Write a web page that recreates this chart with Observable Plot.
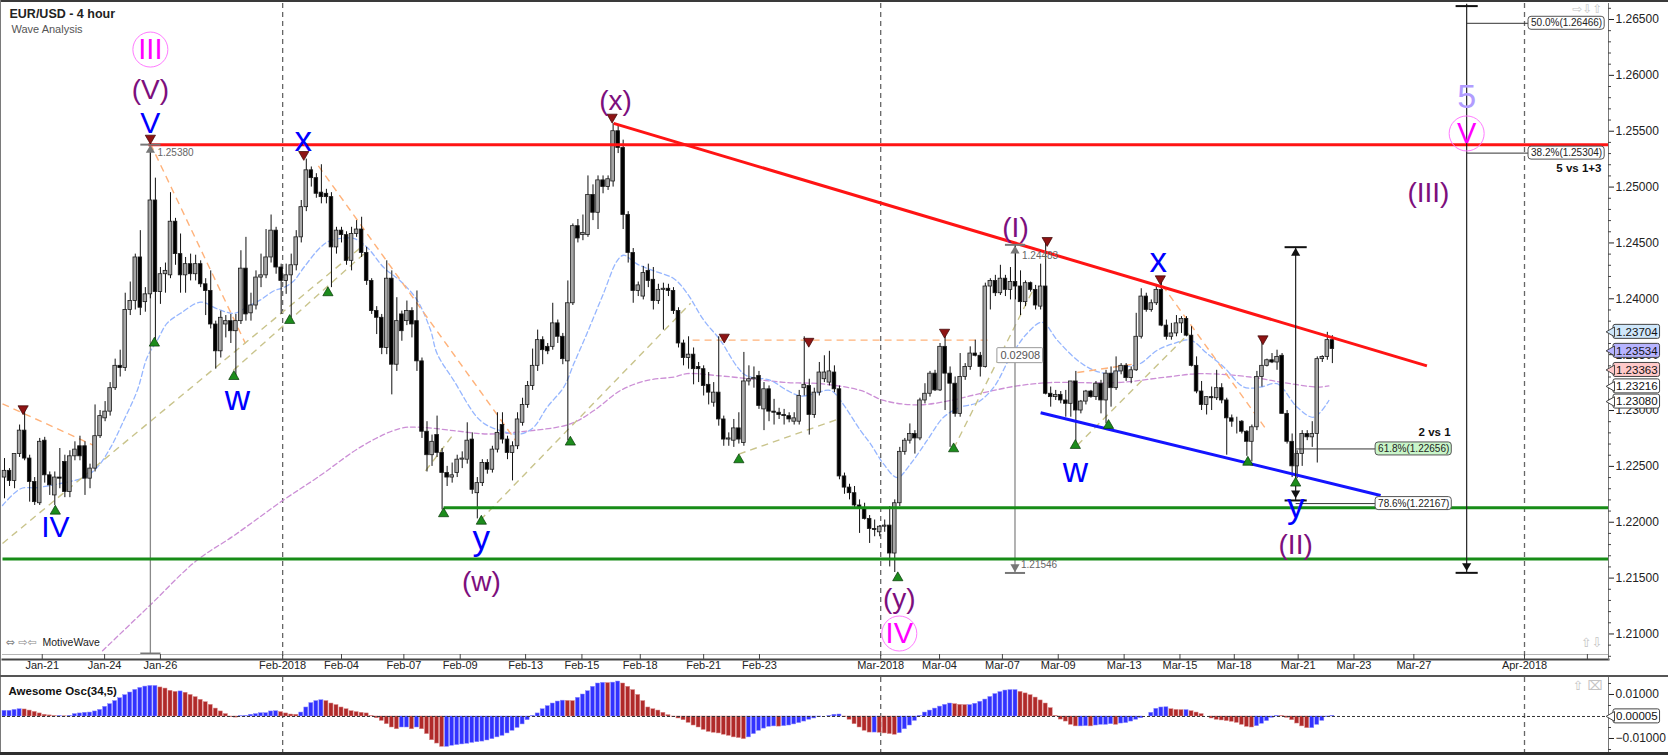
<!DOCTYPE html>
<html><head><meta charset="utf-8">
<script src="https://cdn.jsdelivr.net/npm/d3@7"></script>
<script src="https://cdn.jsdelivr.net/npm/@observablehq/plot@0.6"></script>
<style>
html,body{margin:0;padding:0;background:#fff;}
#wrap{position:relative;width:1668px;height:755px;overflow:hidden;background:#fff;font-family:'Liberation Sans',Arial,sans-serif;}
#wrap svg{display:block;}
.bd{position:absolute;}
</style></head><body><div id="wrap"></div>
<script>
// ---------- candle data (EUR/USD 4h), one entry per bar ----------
const openP = [1.2240,1.2246,1.2237,1.2261,1.2282,1.2257,1.2236,1.2217,1.2273,1.2242,1.2224,1.2240,1.2254,1.2227,1.2259,1.2268,1.2268,1.2239,1.2248,1.2277,1.2293,1.2299,1.2320,1.2340,1.2338,1.2390,1.2398,1.2437,1.2397,1.2404,
1.2488,1.2406,1.2422,1.2421,1.2469,1.2440,1.2421,1.2431,1.2422,1.2431,1.2413,1.2407,1.2377,1.2353,1.2377,1.2380,1.2371,1.2380,1.2427,1.2387,
1.2394,1.2419,1.2421,1.2437,1.2461,1.2428,1.2416,1.2421,1.2430,1.2455,1.2482,1.2515,1.2508,1.2495,1.2494,1.2491,1.2446,1.2461,1.2457,1.2434,
1.2458,1.2462,1.2441,1.2416,1.2389,1.2383,1.2356,1.2418,1.2341,1.2386,1.2380,1.2389,1.2380,1.2344,1.2281,1.2260,
1.2278,1.2262,1.2244,1.2240,1.2244,1.2256,1.2256,1.2274,1.2226,1.2235,1.2253,1.2247,1.2265,1.2287,1.2274,1.2262,1.2268,1.2289,1.2305,1.2322,
1.2340,1.2363,1.2357,1.2357,1.2378,1.2366,1.2344,1.2396,1.2465,1.2457,1.2457,1.2493,1.2477,1.2506,1.2500,1.2505,1.2550,1.2535,1.2475,1.2441,
1.2407,1.2402,1.2425,1.2417,1.2398,1.2408,1.2409,1.2407,1.2389,1.2360,1.2347,1.2350,1.2339,1.2337,1.2323,1.2307,1.2316,1.2292,1.2274,1.2273,
1.2284,1.2271,1.2326,1.2328,1.2331,1.2301,1.2319,1.2299,1.2298,1.2296,1.2295,1.2290,1.2290,1.2320,1.2322,1.2296,1.2316,1.2328,1.2325,1.2334,
1.2319,1.2241,1.2231,
1.2226,1.2215,1.2212,1.2203,1.2194,1.2191,1.2196,1.2197,1.2172,1.2217,1.2263,1.2273,1.2279,1.2275,1.2309,1.2315,1.2333,1.2318,1.2357,1.2333,
1.2324,1.2297,1.2330,1.2339,1.2351,1.2349,1.2339,1.2411,1.2416,1.2405,1.2418,1.2408,1.2415,1.2411,1.2397,1.2414,1.2408,1.2393,1.2411,1.2315,
1.2312,1.2314,1.2309,1.2306,1.2326,1.2300,1.2308,1.2317,1.2312,1.2324,1.2309,1.2333,1.2320,1.2335,1.2340,1.2329,1.2336,1.2366,1.2402,1.2390,
1.2396,1.2408,1.2376,1.2366,1.2369,1.2378,1.2382,1.2367,1.2340,1.2317,1.2305,1.2312,1.2311,1.2320,1.2309,1.2293,1.2290,1.2290,1.2281,1.2272,
1.2285,1.2330,1.2340,1.2345,1.2343,1.2349,1.2297,1.2272,1.2250,1.2261,1.2279,1.2276,1.2279,1.2346,1.2348,1.2363];
const highP = [1.2257,1.2248,1.2261,1.2287,1.2302,1.2260,1.2240,1.2275,1.2276,1.2245,1.2245,1.2266,1.2260,1.2264,1.2272,1.2277,1.2272,1.2252,1.2305,1.2300,1.2308,1.2325,1.2346,1.2354,1.2405,1.2415,1.2440,1.2461,1.2410,1.2538,
1.2508,1.2428,1.2432,1.2495,1.2472,1.2458,1.2437,1.2440,1.2439,1.2434,1.2418,1.2425,1.2380,1.2389,1.2385,1.2386,1.2386,1.2443,1.2455,1.2405,
1.2425,1.2440,1.2462,1.2475,1.2464,1.2431,1.2431,1.2440,1.2461,1.2488,1.2525,1.2518,1.2512,1.2520,1.2498,1.2495,1.2464,1.2464,1.2460,1.2464,
1.2470,1.2473,1.2446,1.2418,1.2393,1.2386,1.2434,1.2425,1.2401,1.2389,1.2398,1.2392,1.2407,1.2347,1.2290,1.2278,
1.2295,1.2266,1.2250,1.2253,1.2260,1.2263,1.2289,1.2280,1.2240,1.2256,1.2256,1.2268,1.2298,1.2298,1.2277,1.2272,1.2298,1.2311,1.2326,1.2355,
1.2372,1.2366,1.2360,1.2396,1.2381,1.2369,1.2416,1.2467,1.2471,1.2475,1.2510,1.2502,1.2510,1.2510,1.2510,1.2557,1.2556,1.2542,1.2478,1.2445,
1.2415,1.2429,1.2431,1.2428,1.2413,1.2414,1.2413,1.2410,1.2392,1.2363,1.2366,1.2356,1.2343,1.2340,1.2334,1.2325,1.2366,1.2295,1.2280,1.2292,
1.2298,1.2352,1.2340,1.2339,1.2335,1.2325,1.2322,1.2310,1.2302,1.2301,1.2298,1.2298,1.2318,1.2366,1.2328,1.2320,1.2343,1.2349,1.2353,1.2340,
1.2322,1.2244,1.2234,
1.2232,1.2220,1.2217,1.2206,1.2202,1.2197,1.2202,1.2214,1.2220,1.2267,1.2275,1.2288,1.2282,1.2311,1.2324,1.2335,1.2336,1.2360,1.2369,1.2339,
1.2330,1.2351,1.2342,1.2357,1.2363,1.2352,1.2414,1.2418,1.2421,1.2430,1.2421,1.2428,1.2448,1.2425,1.2416,1.2415,1.2412,1.2431,1.2451,1.2321,
1.2318,1.2317,1.2318,1.2326,1.2335,1.2309,1.2318,1.2318,1.2326,1.2327,1.2336,1.2339,1.2348,1.2342,1.2342,1.2339,1.2387,1.2409,1.2405,1.2399,
1.2412,1.2418,1.2381,1.2378,1.2385,1.2384,1.2384,1.2375,1.2348,1.2326,1.2312,1.2321,1.2336,1.2324,1.2311,1.2296,1.2294,1.2291,1.2282,1.2287,
1.2335,1.2366,1.2346,1.2351,1.2354,1.2351,1.2300,1.2279,1.2264,1.2282,1.2282,1.2290,1.2348,1.2349,1.2370,1.2367];
const lowP = [1.2221,1.2232,1.2230,1.2258,1.2255,1.2218,1.2215,1.2215,1.2235,1.2224,1.2215,1.2230,1.2222,1.2222,1.2255,1.2255,1.2224,1.2230,1.2245,1.2275,1.2290,1.2295,1.2318,1.2330,1.2335,1.2385,1.2390,1.2385,1.2388,1.2400,
1.2359,1.2395,1.2405,1.2418,1.2430,1.2405,1.2405,1.2416,1.2416,1.2410,1.2385,1.2373,1.2337,1.2347,1.2365,1.2360,1.2329,1.2377,1.2380,1.2380,
1.2390,1.2410,1.2418,1.2432,1.2422,1.2386,1.2404,1.2383,1.2425,1.2450,1.2478,1.2500,1.2490,1.2485,1.2485,1.2410,1.2440,1.2450,1.2430,1.2425,
1.2455,1.2437,1.2412,1.2386,1.2368,1.2350,1.2350,1.2314,1.2335,1.2362,1.2376,1.2365,1.2335,1.2275,1.2245,1.2250,
1.2258,1.2211,1.2232,1.2235,1.2240,1.2248,1.2252,1.2225,1.2203,1.2232,1.2243,1.2244,1.2262,1.2270,1.2256,1.2237,1.2265,1.2286,1.2302,1.2318,
1.2335,1.2341,1.2350,1.2354,1.2360,1.2341,1.2273,1.2394,1.2450,1.2452,1.2455,1.2470,1.2462,1.2494,1.2497,1.2500,1.2530,1.2462,1.2432,1.2396,
1.2402,1.2399,1.2410,1.2390,1.2395,1.2372,1.2402,1.2386,1.2356,1.2340,1.2337,1.2323,1.2325,1.2313,1.2305,1.2303,1.2286,1.2268,1.2268,1.2267,
1.2270,1.2268,1.2322,1.2320,1.2301,1.2282,1.2290,1.2287,1.2292,1.2287,1.2289,1.2287,1.2287,1.2313,1.2278,1.2293,1.2313,1.2325,1.2322,1.2316,
1.2238,1.2225,1.2220,
1.2212,1.2190,1.2202,1.2181,1.2187,1.2187,1.2191,1.2160,1.2155,1.2214,1.2260,1.2270,1.2261,1.2273,1.2306,1.2312,1.2317,1.2317,1.2300,1.2267,
1.2294,1.2294,1.2327,1.2336,1.2348,1.2330,1.2338,1.2390,1.2402,1.2403,1.2402,1.2399,1.2399,1.2385,1.2393,1.2406,1.2390,1.2390,1.2314,1.2303,
1.2309,1.2306,1.2294,1.2294,1.2267,1.2297,1.2305,1.2311,1.2309,1.2297,1.2288,1.2303,1.2318,1.2332,1.2326,1.2324,1.2335,1.2364,1.2388,1.2388,
1.2394,1.2375,1.2363,1.2363,1.2366,1.2369,1.2366,1.2339,1.2315,1.2300,1.2296,1.2300,1.2309,1.2306,1.2260,1.2285,1.2279,1.2279,1.2259,1.2254,
1.2282,1.2321,1.2339,1.2342,1.2336,1.2297,1.2270,1.2240,1.2239,1.2250,1.2273,1.2267,1.2253,1.2343,1.2345,1.2342];
const closeP = [1.2246,1.2237,1.2261,1.2282,1.2257,1.2236,1.2218,1.2272,1.2242,1.2233,1.2240,1.2239,1.2227,1.2259,1.2265,1.2259,1.2239,1.2248,1.2277,1.2295,1.2299,1.2320,1.2340,1.2338,1.2390,1.2398,1.2437,1.2392,1.2404,1.2488,
1.2406,1.2422,1.2425,1.2469,1.2440,1.2421,1.2431,1.2422,1.2431,1.2413,1.2407,1.2377,1.2353,1.2383,1.2380,1.2371,1.2380,1.2427,1.2386,1.2394,
1.2419,1.2421,1.2437,1.2461,1.2428,1.2416,1.2421,1.2430,1.2455,1.2482,1.2515,1.2508,1.2494,1.2491,1.2491,1.2446,1.2461,1.2457,1.2434,1.2458,
1.2462,1.2441,1.2416,1.2389,1.2383,1.2356,1.2418,1.2341,1.2380,1.2371,1.2389,1.2377,1.2344,1.2281,1.2260,1.2272,
1.2262,1.2244,1.2240,1.2242,1.2256,1.2257,1.2273,1.2229,1.2235,1.2253,1.2247,1.2265,1.2280,1.2274,1.2262,1.2268,1.2292,1.2305,1.2322,1.2340,
1.2363,1.2354,1.2353,1.2378,1.2366,1.2346,1.2396,1.2465,1.2454,1.2459,1.2493,1.2477,1.2506,1.2500,1.2507,1.2550,1.2535,1.2475,1.2441,1.2407,
1.2412,1.2423,1.2416,1.2398,1.2408,1.2409,1.2407,1.2389,1.2360,1.2347,1.2350,1.2337,1.2337,1.2322,1.2316,1.2316,1.2292,1.2274,1.2275,1.2284,
1.2274,1.2326,1.2328,1.2329,1.2304,1.2319,1.2299,1.2298,1.2296,1.2295,1.2292,1.2293,1.2313,1.2323,1.2296,1.2316,1.2334,1.2334,1.2335,1.2319,
1.2241,1.2231,1.2226,
1.2215,1.2212,1.2203,1.2194,1.2193,1.2196,1.2197,1.2172,1.2217,1.2263,1.2273,1.2279,1.2275,1.2309,1.2315,1.2333,1.2318,1.2357,1.2333,1.2324,
1.2297,1.2330,1.2339,1.2351,1.2349,1.2339,1.2411,1.2416,1.2405,1.2418,1.2408,1.2415,1.2411,1.2397,1.2414,1.2408,1.2394,1.2411,1.2315,1.2312,
1.2314,1.2309,1.2306,1.2326,1.2300,1.2308,1.2317,1.2312,1.2324,1.2309,1.2333,1.2320,1.2335,1.2340,1.2329,1.2336,1.2366,1.2402,1.2390,1.2396,
1.2408,1.2376,1.2366,1.2369,1.2378,1.2382,1.2367,1.2340,1.2317,1.2305,1.2312,1.2311,1.2320,1.2309,1.2293,1.2290,1.2290,1.2281,1.2272,1.2285,
1.2330,1.2340,1.2345,1.2343,1.2348,1.2297,1.2272,1.2250,1.2261,1.2279,1.2276,1.2279,1.2346,1.2348,1.2363,1.2355];

// Awesome Oscillator (34,5), one value per bar
const aoValues = [0.0026,0.0026,0.0030,0.0033,0.0032,0.0027,0.0021,0.0014,0.0008,0.0005,0.0002,
0.0002,0.0001,0.0003,0.0011,0.0014,0.0017,0.0018,0.0023,0.0030,0.0044,
0.0056,0.0070,0.0083,0.0097,0.0109,0.0121,0.0130,0.0136,0.0139,0.0139,
0.0132,0.0127,0.0117,0.0112,0.0114,0.0108,0.0098,0.0088,0.0076,0.0065,
0.0053,0.0036,0.0023,0.0011,-0.0003,-0.0005,0.0002,0.0003,0.0008,0.0011,
0.0015,0.0015,0.0023,0.0024,0.0020,0.0014,0.0009,0.0008,0.0018,0.0041,
0.0061,0.0070,0.0074,0.0070,0.0059,0.0052,0.0041,0.0033,0.0024,0.0020,
0.0017,0.0014,0.0002,-0.0008,-0.0020,-0.0035,-0.0050,-0.0058,-0.0050,-0.0050,
-0.0058,-0.0050,-0.0058,-0.0080,-0.0108,-0.0123,-0.0138,-0.0138,-0.0133,-0.0130,
-0.0127,-0.0124,-0.0120,-0.0117,-0.0114,-0.0109,-0.0103,-0.0095,-0.0088,-0.0077,
-0.0065,-0.0052,-0.0036,-0.0017,0.0003,0.0014,0.0033,0.0047,0.0059,0.0068,
0.0072,0.0071,0.0070,0.0085,0.0100,0.0115,0.0135,0.0150,0.0153,0.0152,
0.0154,0.0159,0.0150,0.0135,0.0120,0.0098,0.0070,0.0041,0.0033,0.0027,
0.0017,0.0006,-0.0002,-0.0009,-0.0017,-0.0029,-0.0041,-0.0050,-0.0061,-0.0070,
-0.0074,-0.0077,-0.0083,-0.0088,-0.0095,-0.0098,-0.0103,-0.0095,-0.0080,-0.0065,
-0.0055,-0.0047,-0.0045,-0.0046,-0.0044,-0.0041,-0.0036,-0.0030,-0.0023,-0.0015,
-0.0009,-0.0003,0.0000,0.0002,0.0008,0.0009,-0.0003,-0.0015,-0.0035,-0.0050,
-0.0065,-0.0073,-0.0073,-0.0074,-0.0077,-0.0080,-0.0083,-0.0076,-0.0058,-0.0041,
-0.0020,0.0003,0.0018,0.0027,0.0036,0.0045,0.0053,0.0059,0.0056,0.0053,
0.0052,0.0052,0.0058,0.0067,0.0077,0.0089,0.0102,0.0111,0.0118,0.0120,
0.0120,0.0112,0.0105,0.0097,0.0086,0.0073,0.0059,0.0038,0.0003,-0.0014,
-0.0023,-0.0038,-0.0045,-0.0045,-0.0044,-0.0045,-0.0041,-0.0038,-0.0038,-0.0035,
-0.0038,-0.0032,-0.0030,-0.0023,-0.0015,-0.0008,0.0000,0.0017,0.0035,0.0041,
0.0042,0.0033,0.0030,0.0029,0.0029,0.0024,0.0018,0.0011,0.0000,-0.0009,
-0.0015,-0.0018,-0.0021,-0.0024,-0.0029,-0.0038,-0.0047,-0.0050,-0.0044,-0.0033,
-0.0021,-0.0006,0.0003,0.0002,-0.0006,-0.0017,-0.0032,-0.0045,-0.0053,-0.0053,
-0.0038,-0.0020,-0.0003,0.0003];

// time axis (bar positions of the date ticks)
const xTickBars = [7.5,19.9,31.0,55.3,67.0,79.4,90.6,103.6,114.8,126.4,139.0,150.1,174.2,185.9,198.4,209.5,222.6,233.7,244.5,257.2,268.3,280.2,302.2,314.7];
const xTickLabels = ["Jan-21","Jan-24","Jan-26","Feb-2018","Feb-04","Feb-07","Feb-09","Feb-13","Feb-15","Feb-18","Feb-21","Feb-23","Mar-2018","Mar-04","Mar-07","Mar-09","Mar-13","Mar-15","Mar-18","Mar-21","Mar-23","Mar-27","Apr-2018",""];
const monthLineBars = [55.3,174.2,302.2];
const yTickValues = [1.210,1.215,1.220,1.225,1.230,1.235,1.240,1.245,1.250,1.255,1.260,1.265];
const oscTickValues = [-0.01,0.01];
const oscMinorTicks = [-0.015,-0.005,0.005,0.015];

// moving averages (bar, price)
const blueMA = [[-0.4,1.2215],[3.2,1.2230],[6.5,1.2231],[12.5,1.2236],[15.8,1.2240],[18.4,1.2249],[21.1,1.2267],[23.7,1.2291],[26.4,1.2318],[28.4,1.2348],[30.4,1.2363],[32.3,1.2378],[35.0,1.2387],[39.0,1.2397],[42.3,1.2391],[45.6,1.2387],[48.3,1.2393],[50.9,1.2399],[53.5,1.2407],[55.5,1.2410],[57.5,1.2416],[59.5,1.2428],[62.8,1.2446],[64.8,1.2452],[69.4,1.2454],[72.1,1.2446],[75.4,1.2428],[78.7,1.2416],[82.0,1.2399],[84.7,1.2372],
[86.0,1.2351],[89.3,1.2327],[94.6,1.2291],[98.6,1.2282],[102.6,1.2279],[105.2,1.2285],[107.9,1.2303],[111.2,1.2321],[113.2,1.2342],[115.8,1.2369],[119.1,1.2405],[121.8,1.2434],[123.1,1.2439],[125.8,1.2431],[129.1,1.2425],[133.1,1.2418],[135.7,1.2405],[139.0,1.2381],[142.3,1.2363],[145.7,1.2339],[147.6,1.2331],[152.3,1.2327],[155.6,1.2318],[158.3,1.2313],[160.9,1.2315],[164.2,1.2318],[166.2,1.2309],[170.2,1.2282],
[172.2,1.2270],[174.8,1.2252],[177.5,1.2240],[180.1,1.2252],[183.4,1.2273],[186.7,1.2294],[190.1,1.2303],[193.4,1.2307],[196.7,1.2321],[200.0,1.2348],[203.3,1.2369],[206.3,1.2379],[209.3,1.2363],[213.3,1.2345],[216.6,1.2336],[219.9,1.2333],[223.2,1.2339],[225.8,1.2342],[229.2,1.2354],[232.5,1.2360],[235.8,1.2363],[239.1,1.2351],[242.4,1.2339],[246.4,1.2321],[249.7,1.2321],[253.0,1.2324],[257.0,1.2303],[260.3,1.2294],[263.3,1.2309]];
const purpleMA = [[19.5,1.2085],[29.0,1.2126],[38.0,1.2165],[45.6,1.2188],[55.5,1.2220],[62.2,1.2240],[71.4,1.2269],[78.7,1.2284],[82.7,1.2285],[89.3,1.2282],[96.0,1.2279],[102.6,1.2281],[112.5,1.2288],[117.2,1.2300],[122.5,1.2318],[127.8,1.2327],[133.1,1.2330],[135.7,1.2333],[142.3,1.2331],[149.0,1.2328],[155.6,1.2325],[162.2,1.2324],[170.2,1.2318],[174.8,1.2309],[181.5,1.2305],[188.1,1.2309],[194.7,1.2316],[201.3,1.2322],[207.9,1.2325],[221.2,1.2325],[231.1,1.2330],[237.8,1.2333],[247.7,1.2330],[254.3,1.2325],[261.0,1.2321],[263.3,1.2322]];

// zig-zag helper lines (bar1, price1, bar2, price2)
const orangeSegs = [[-0.4,1.2306,19.1,1.2266],[29.0,1.2539,47.9,1.2360],[62.4,1.2519,102.6,1.2267],[136.8,1.2363,195.6,1.2363],[230.2,1.2412,250.7,1.2284],[213.3,1.2334,225.2,1.2342]];
const khakiSegs = [[-0.4,1.2181,71.4,1.2448],[45.5,1.2336,71.4,1.2440],[94.6,1.2202,136.4,1.2396],[146.0,1.2261,166.2,1.2293],[188.7,1.2266,204.6,1.2409],[213.3,1.2269,235.5,1.2369],[83.7,1.2246,89.3,1.2279]];

// levels and trend lines
const redLevel = [{p:1.2538, from:28.6}];
const greenLevels = [{p:1.2213, from:87.3},{p:1.2167, from:-0.4}];
const redTrend = [[121.1,1.2557,282.8,1.2340]];
const blueTrend = [[206.0,1.2298,273.6,1.2224]];

// measurement lines (bar, top price, bottom price)
const grayMeasures = [[29.0,1.2538,1.20825],[200.9,1.24483,1.21546]];
const blackMeasures = [[290.7,1.2664,1.21547],[256.7,1.24462,1.22195]];
const grayCaps = [[29.0,1.2538],[29.0,1.20825],[200.9,1.24483],[200.9,1.21546]];
const blackCaps = [[290.7,1.2662],[290.7,1.21547],[256.7,1.24462],[256.7,1.22195]];
const grayArrowsUp = [[29.0,1.2533],[200.9,1.2443]];
const grayArrowsDown = [[200.9,1.2160]];
const blackArrowsUp = [[256.7,1.2441]];
const blackArrowsDown = [[290.7,1.2161],[256.7,1.2226]];

// pivot markers
const pivotHighs = [[3.7,1.23016],[29.0,1.25438],[59.5,1.25292],[120.8,1.25626],[143.1,1.23657],[159.9,1.23620],[186.9,1.23701],[207.3,1.24522],[229.8,1.24179],[250.2,1.23642]];
const pivotLows = [[10.1,1.22099],[29.8,1.23603],[45.6,1.23304],[56.7,1.23806],[64.3,1.24054],[87.3,1.22076],[94.8,1.22009],[112.5,1.22717],[146.0,1.22559],[177.6,1.21503],[188.7,1.22657],[212.9,1.22687],[219.5,1.22866],[247.2,1.22537],[256.7,1.22350]];

// wave labels
const magentaWaves = [{t:"III",i:29.0,p:1.26231},{t:"IV",i:177.9,p:1.21004},{t:"V",i:290.7,p:1.2548}];
const purpleWaves = [{t:"(V)",i:29.0,p:1.25873},{t:"(w)",i:94.8,p:1.21461},{t:"(x)",i:121.5,p:1.25766},{t:"(y)",i:177.9,p:1.21317},{t:"(I)",i:201.0,p:1.24629},{t:"(II)",i:256.7,p:1.21792},{t:"(III)",i:283.1,p:1.24951}];
const blueWavesUpper = [{t:"V",i:29.0,p:1.25574},{t:"IV",i:10.1,p:1.21953}];
const blueWavesLower = [{t:"x",i:59.4,p:1.25426},{t:"w",i:46.3,p:1.23108},{t:"y",i:94.8,p:1.21854},{t:"x",i:229.4,p:1.24343},{t:"w",i:212.9,p:1.22463},{t:"y",i:256.7,p:1.22141}];
const cycleLabels = [{t:"5",i:290.7,p:1.25802}];

// fib / measurement texts
const fibLinks = [[290.7,303.0,1.26466],[290.7,303.0,1.25304],[256.7,272.6,1.22656],[256.7,272.6,1.22167]];
const fibBoxesWhite = [{t:"50.0%(1.26466)",i:303.0,p:1.26466},{t:"38.2%(1.25304)",i:303.0,p:1.25304},{t:"78.6%(1.22167)",i:272.6,p:1.22167}];
const fibBoxesGreen = [{t:"61.8%(1.22656)",i:272.6,p:1.22656}];
const rangeBox = [{t:"0.02908",i:197.4,p:1.23491}];
const fibNotes = [{t:"5 vs 1+3",i:317.5,p:1.25166},{t:"2 vs 1",i:287.5,p:1.22806}];
const priceNotes = [{t:"1.25380",i:30.4,p:1.25307},{t:"1.24483",i:202.3,p:1.24383},{t:"1.21546",i:202.1,p:1.21622}];

// right-hand price tags
const tagBlue = [{t:"1.23704",p:1.23704}];
const tagViolet = [{t:"1.23534",p:1.23534}];
const tagPink = [{t:"1.23363",p:1.23363}];
const tagWhite = [{t:"1.23216",p:1.23216},{t:"1.23080",p:1.23080}];
const oscTag = [{t:"0.00005",p:0.00005}];

// ---------- build ----------
const FONT = "'Liberation Sans', Arial, sans-serif";
const xDomain = [-0.4, 318.9];
const yDomainMain = [1.207714, 1.266432];
const yDomainOsc = [-0.016364, 0.017727];
const xs = d3.scaleLinear(xDomain, [2, 1608]);
const ysMain = d3.scaleLinear(yDomainMain, [659, 3]);
const ysOsc = d3.scaleLinear(yDomainOsc, [76, 1]);

const candles = openP.map((o, i) => ({i, o, h: highP[i], l: lowP[i], c: closeP[i]}));
const ao = aoValues.map((v, i) => ({i, v, up: i === 0 ? true : v >= aoValues[i - 1]}));
const xTicks = xTickBars.map((b, k) => ({i: b, label: xTickLabels[k]}));
const xTickTexts = xTicks.filter(d => d.label !== "");
const minorY = d3.range(1.208, 1.2665, 0.001).filter(v => yTickValues.every(t => Math.abs(t - v) > 1e-6));

// approximate glyph advance widths (em) for sizing label boxes
const CW = {".": 0.278, "%": 0.889, "(": 0.333, ")": 0.333, "-": 0.333};
const textWidth = (s, fs) => [...s].reduce((a, c) => a + (CW[c] ?? 0.556), 0) * fs;

// boxed label anchored at its left edge in data space
function boxed(data, {fs, pad, h, fill, stroke, color, rx = 3}) {
  return [
    Plot.rect(data, {
      x1: "i", x2: d => xs.invert(xs(d.i) + textWidth(d.t, fs) + 2 * pad),
      y1: d => ysMain.invert(ysMain(d.p) - h / 2), y2: d => ysMain.invert(ysMain(d.p) + h / 2),
      fill, stroke, strokeWidth: 1, rx
    }),
    Plot.text(data, {x: "i", y: "p", text: "t", dx: pad, textAnchor: "start", fontSize: fs, fill: color})
  ];
}
// price tag with a left-pointing notch, sitting just right of the axis line
function tag(data, ys, fill) {
  const fs = 11.5, pad = 2.5, h = 14, gap = 5;
  const edge = xDomain[1];
  return [
    Plot.rect(data, {
      x1: () => xs.invert(xs(edge) + gap), x2: d => xs.invert(xs(edge) + gap + textWidth(d.t, fs) + 2 * pad),
      y1: d => ys.invert(ys(d.p) - h / 2), y2: d => ys.invert(ys(d.p) + h / 2),
      fill, stroke: "#444", strokeWidth: 1, rx: 2
    }),
    Plot.dot(data, {y: "p", frameAnchor: "right", dx: 3.2, symbol: "triangle", rotate: -90, r: 3.6, fill, stroke: "#444", strokeWidth: 1}),
    Plot.text(data, {y: "p", text: "t", frameAnchor: "right", dx: gap + pad, textAnchor: "start", fontSize: fs, fill: "#111"})
  ];
}
const seg = (arr, opts) => Plot.link(arr, {x1: d => d[0], y1: d => d[1], x2: d => d[2], y2: d => d[3], ...opts});

const main = Plot.plot({
  width: 1668, height: 676,
  marginLeft: 2, marginRight: 60, marginTop: 3, marginBottom: 17,
  x: {domain: xDomain, axis: null, label: null},
  y: {domain: yDomainMain, axis: null, label: null},
  style: {fontFamily: FONT, fontSize: "11px", color: "#222", background: "#fff", overflow: "visible"},
  marks: [
    Plot.ruleX(monthLineBars, {stroke: "#666", strokeDasharray: "5,4", strokeWidth: 1.3}),
    Plot.line(purpleMA, {x: d => d[0], y: d => d[1], stroke: "#cc8fd6", strokeWidth: 1.3, strokeDasharray: "5,3", curve: "catmull-rom"}),
    Plot.line(blueMA, {x: d => d[0], y: d => d[1], stroke: "#96b6ff", strokeWidth: 1.3, strokeDasharray: "5,3", curve: "catmull-rom"}),
    seg(orangeSegs, {stroke: "#ffb27a", strokeWidth: 1.4, strokeDasharray: "7,5"}),
    seg(khakiSegs, {stroke: "#c9c48c", strokeWidth: 1.4, strokeDasharray: "7,5"}),
    Plot.link(grayMeasures, {x1: d => d[0], x2: d => d[0], y1: d => d[1], y2: d => d[2], stroke: "#8a8a8a", strokeWidth: 1.3}),
    // candles
    Plot.ruleX(candles, {x: "i", y1: "l", y2: "h", stroke: "#111", strokeWidth: 1}),
    Plot.rect(candles, {x1: d => d.i - 0.36, x2: d => d.i + 0.36, y1: "o", y2: "c", fill: d => d.c >= d.o ? "#a6a6a6" : "#000", stroke: "#1a1a1a", strokeWidth: 0.8}),
    // levels
    Plot.link(greenLevels, {x1: "from", x2: () => xDomain[1], y1: "p", y2: "p", stroke: "#178c17", strokeWidth: 3}),
    Plot.link(redLevel, {x1: "from", x2: () => xDomain[1], y1: "p", y2: "p", stroke: "#ff1414", strokeWidth: 3}),
    seg(redTrend, {stroke: "#ff1414", strokeWidth: 3}),
    seg(blueTrend, {stroke: "#1414ff", strokeWidth: 3}),
    // measurement & fib
    Plot.link(blackMeasures, {x1: d => d[0], x2: d => d[0], y1: d => d[1], y2: d => d[2], stroke: "#222", strokeWidth: 1.2}),
    Plot.link(fibLinks, {x1: d => d[0], x2: d => d[1], y1: d => d[2], y2: d => d[2], stroke: "#333", strokeWidth: 1}),
    Plot.link(grayCaps, {x1: d => d[0] - 2, x2: d => d[0] + 2, y1: d => d[1], y2: d => d[1], stroke: "#777", strokeWidth: 2}),
    Plot.link(blackCaps, {x1: d => d[0] - 2.2, x2: d => d[0] + 2.2, y1: d => d[1], y2: d => d[1], stroke: "#111", strokeWidth: 2}),
    Plot.dot(grayArrowsUp, {x: d => d[0], y: d => d[1], symbol: "triangle", r: 3.4, fill: "#777", stroke: "none"}),
    Plot.dot(grayArrowsDown, {x: d => d[0], y: d => d[1], symbol: "triangle", rotate: 180, r: 3.4, fill: "#777", stroke: "none"}),
    Plot.dot(blackArrowsUp, {x: d => d[0], y: d => d[1], symbol: "triangle", r: 3.4, fill: "#111", stroke: "none"}),
    Plot.dot(blackArrowsDown, {x: d => d[0], y: d => d[1], symbol: "triangle", rotate: 180, r: 3.4, fill: "#111", stroke: "none"}),
    // pivots
    Plot.dot(pivotHighs, {x: d => d[0], y: d => d[1], symbol: "triangle", rotate: 180, r: 3.8, fill: "#8e1414", stroke: "#3a0000", strokeWidth: 0.7}),
    Plot.dot(pivotLows, {x: d => d[0], y: d => d[1], symbol: "triangle", r: 3.8, fill: "#1c8c1c", stroke: "#063806", strokeWidth: 0.7}),
    // labels
    Plot.dot(magentaWaves, {x: "i", y: "p", r: 17.5, stroke: "#ff7aff", strokeWidth: 1, fill: "none"}),
    Plot.text(magentaWaves, {x: "i", y: "p", text: "t", fill: "#ff00ff", fontSize: 29}),
    Plot.text(purpleWaves, {x: "i", y: "p", text: "t", fill: "#7d0f7d", fontSize: 28}),
    Plot.text(blueWavesUpper, {x: "i", y: "p", text: "t", fill: "#0000ff", fontSize: 30}),
    Plot.text(blueWavesLower, {x: "i", y: "p", text: "t", fill: "#0000ff", fontSize: 35}),
    Plot.text(cycleLabels, {x: "i", y: "p", text: "t", fill: "#b19cff", fontSize: 34}),
    Plot.text(priceNotes, {x: "i", y: "p", text: "t", fill: "#666", fontSize: 10, textAnchor: "start"}),
    Plot.text(fibNotes, {x: "i", y: "p", text: "t", fill: "#111", fontSize: 11.5, fontWeight: "bold", textAnchor: "end"}),
    ...boxed(fibBoxesWhite, {fs: 10, pad: 2.5, h: 13, fill: "#fff", stroke: "#555", color: "#222"}),
    ...boxed(fibBoxesGreen, {fs: 10, pad: 2.5, h: 13, fill: "#c9f5c9", stroke: "#555", color: "#222"}),
    ...boxed(rangeBox, {fs: 11, pad: 3, h: 15, fill: "#fff", stroke: "#999", color: "#555", rx: 1}),
    // titles and chrome
    Plot.text(["EUR/USD - 4 hour"], {text: d => d, frameAnchor: "top-left", dx: 7, dy: 6, lineAnchor: "top", textAnchor: "start", fontSize: 12.5, fontWeight: "bold", fill: "#222"}),
    Plot.text(["Wave Analysis"], {text: d => d, frameAnchor: "top-left", dx: 9, dy: 22, lineAnchor: "top", textAnchor: "start", fontSize: 11, fill: "#555"}),
    Plot.text(["\u21E8\u21E9\u21E7"], {text: d => d, frameAnchor: "top-right", dx: -6, dy: 1, lineAnchor: "top", textAnchor: "end", fontSize: 12, fill: "#c4c4c4", fontFamily: "DejaVu Sans"}),
    Plot.text(["\u21E7\u21E9"], {text: d => d, frameAnchor: "bottom-right", dx: -6, dy: -13, textAnchor: "end", fontSize: 13, fill: "#c4c4c4", fontFamily: "DejaVu Sans"}),
    Plot.text(["\u21D4 \u21E8\u21E6"], {text: d => d, frameAnchor: "bottom-left", dx: 3, dy: -14, textAnchor: "start", fontSize: 11, fill: "#888", fontFamily: "DejaVu Sans"}),
    Plot.text(["MotiveWave"], {text: d => d, frameAnchor: "bottom-left", dx: 40, dy: -14, textAnchor: "start", fontSize: 10.5, fill: "#222"}),
    // axes
    Plot.frame({anchor: "bottom", insetBottom: 5, stroke: "#b5b5b5"}),
    Plot.frame({anchor: "bottom", stroke: "#444", strokeWidth: 2}),
    Plot.frame({anchor: "right", stroke: "#777"}),
    Plot.tickX(xTicks, {x: "i", insetTop: 651, stroke: "#444"}),
    Plot.text(xTickTexts, {x: "i", text: "label", frameAnchor: "bottom", dy: 9, fontSize: 11, fill: "#222"}),
    Plot.axisY(yTickValues, {anchor: "right", tickFormat: d3.format(".5f"), tickSize: 5, tickPadding: 2, fontSize: 12, color: "#222", label: null}),
    Plot.tickY(minorY, {y: d => d, insetLeft: 1603, dx: 3, stroke: "#444"}),
    ...tag(tagWhite, ysMain, "#fff"),
    ...tag(tagPink, ysMain, "#ffc9c9"),
    ...tag(tagViolet, ysMain, "#b7b4ff"),
    ...tag(tagBlue, ysMain, "#cfe7fa")
  ]
});

const osc = Plot.plot({
  width: 1668, height: 79,
  marginLeft: 2, marginRight: 60, marginTop: 1, marginBottom: 3,
  x: {domain: xDomain, axis: null, label: null},
  y: {domain: yDomainOsc, axis: null, label: null},
  style: {fontFamily: FONT, fontSize: "11px", color: "#222", background: "#fff", overflow: "visible"},
  marks: [
    Plot.ruleX(monthLineBars, {stroke: "#666", strokeDasharray: "5,4", strokeWidth: 1.3}),
    Plot.rect(ao, {x1: d => d.i - 0.4, x2: d => d.i + 0.4, y1: 0, y2: "v", fill: d => d.up ? "#3232ff" : "#b02a2a", stroke: d => d.up ? "#8c8cff" : "#d98a8a", strokeWidth: 0.5}),
    Plot.ruleY([0], {stroke: "#333", strokeDasharray: "3,2", strokeWidth: 1}),
    Plot.frame({anchor: "right", stroke: "#777"}),
    Plot.axisY(oscTickValues, {anchor: "right", tickFormat: d3.format(".5f"), tickSize: 5, tickPadding: 2, fontSize: 12, color: "#222", label: null}),
    Plot.tickY(oscMinorTicks, {y: d => d, insetLeft: 1603, dx: 3, stroke: "#444"}),
    ...tag(oscTag, ysOsc, "#fff"),
    Plot.text(["Awesome Osc(34,5)"], {text: d => d, frameAnchor: "top-left", dx: 6, dy: 9, lineAnchor: "top", textAnchor: "start", fontSize: 11.5, fontWeight: "bold", fill: "#111"}),
    Plot.text(["\u21E7 \u2327"], {text: d => d, frameAnchor: "top-right", dx: -6, dy: 3, lineAnchor: "top", textAnchor: "end", fontSize: 13, fill: "#c4c4c4", fontFamily: "DejaVu Sans"})
  ]
});

const wrap = document.getElementById("wrap");
wrap.appendChild(main);
wrap.appendChild(osc);
// panel borders
[[0,0,1668,2,"#3a3a3a"],[0,0,1,755,"#7a7a7a"],[0,675,1668,2,"#555"],[0,752,1668,3,"#2e2e2e"]].forEach(([x,y,w,h,c]) => {
  const d = document.createElement("div");
  d.className = "bd";
  d.style.cssText = `left:${x}px;top:${y}px;width:${w}px;height:${h}px;background:${c}`;
  wrap.appendChild(d);
});
</script></body></html>
